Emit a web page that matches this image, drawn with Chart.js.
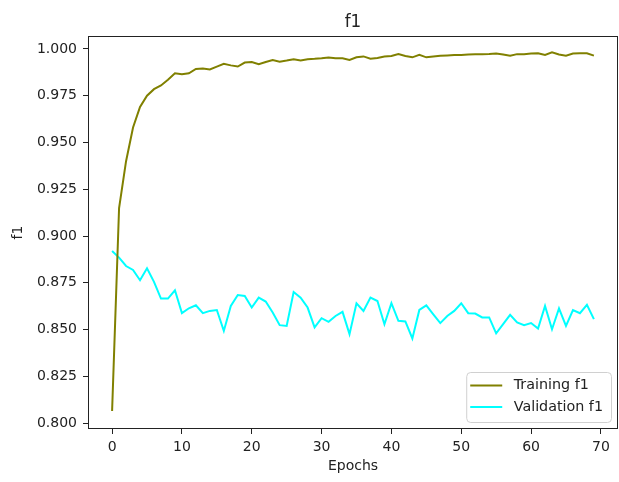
<!DOCTYPE html>
<html>
<head>
<meta charset="utf-8">
<title>f1</title>
<script src="https://cdn.jsdelivr.net/npm/chart.js@4.4.1/dist/chart.umd.min.js"></script>
<style>
  html, body { margin: 0; padding: 0; background: #fff; }
  #wrap { width: 619px; height: 482px; }
</style>
</head>
<body>
<div id="wrap"><canvas id="graficoF1"></canvas></div>
<script>
// epochs 0..69
const epochs = Array.from({ length: 70 }, (_, i) => i);

const trainF1 = [
  0.8065, 0.915, 0.940, 0.958, 0.969, 0.975, 0.9785, 0.9805, 0.9835, 0.987,
  0.9865, 0.987, 0.9893, 0.9895, 0.989, 0.9905, 0.992, 0.9912, 0.9906, 0.9927,
  0.993, 0.9918, 0.993, 0.9941, 0.9932, 0.9938, 0.9945, 0.9938, 0.9945, 0.9947,
  0.995, 0.9954, 0.995, 0.995, 0.9941, 0.9955, 0.996, 0.9948, 0.9952, 0.996,
  0.9962, 0.9972, 0.9962, 0.9955, 0.9968, 0.9955, 0.996, 0.9963, 0.9965, 0.9967,
  0.9968, 0.997, 0.9971, 0.9972, 0.9973, 0.9975, 0.997, 0.9963, 0.9972, 0.9972,
  0.9975, 0.9977, 0.9968, 0.9982, 0.997, 0.9964, 0.9975, 0.9977, 0.9977, 0.9964
];

const valF1 = [
  0.892, 0.8885, 0.884, 0.8819, 0.8764, 0.8828, 0.8755, 0.8666, 0.8666, 0.871,
  0.8588, 0.8614, 0.863, 0.8588, 0.860, 0.8605, 0.8493, 0.8627, 0.8685, 0.868,
  0.8618, 0.8671, 0.865, 0.8592, 0.8524, 0.852, 0.8701, 0.8671, 0.8618, 0.8512,
  0.8561, 0.8542, 0.8573, 0.8595, 0.8476, 0.8641, 0.860, 0.8671, 0.8653, 0.8529,
  0.8641, 0.8547, 0.8544, 0.8453, 0.8605, 0.863, 0.8582, 0.8535, 0.8573, 0.860,
  0.8641, 0.8588, 0.8586, 0.8565, 0.8565, 0.848, 0.8529, 0.8579, 0.8538, 0.8524,
  0.8535, 0.8506, 0.8627, 0.8502, 0.8613, 0.852, 0.8605, 0.8588, 0.8632, 0.8556
];

const xTicks = [0, 10, 20, 30, 40, 50, 60, 70];
const yTicks = [0.800, 0.825, 0.850, 0.875, 0.900, 0.925, 0.950, 0.975, 1.000];

const FONT = '"DejaVu Sans", sans-serif';
const INK = '#222';

// title over the plot, box round it, legend in the lower right corner
const moldura = {
  id: 'moldura',
  afterDatasetsDraw(chart) {
    const { ctx, chartArea: a } = chart;
    ctx.save();
    ctx.strokeStyle = INK;
    ctx.lineWidth = 1;
    ctx.strokeRect(a.left + 0.5, a.top + 0.5, a.right - a.left - 1, a.bottom - a.top - 1);

    ctx.fillStyle = INK;
    ctx.font = '16.8px ' + FONT;
    ctx.textAlign = 'center';
    ctx.textBaseline = 'alphabetic';
    ctx.fillText('f1', (a.left + a.right) / 2, 27);

    ctx.font = '14.3px ' + FONT;
    const sets = chart.data.datasets;
    const maxW = Math.max(...sets.map(d => ctx.measureText(d.label).width));
    const w = 47.5 + maxW + 8;
    const h = 50;
    const x0 = a.right - 7 - w;
    const y0 = a.bottom - 7 - h;
    ctx.beginPath();
    ctx.roundRect(x0 + 0.5, y0 + 0.5, w, h, 4);
    ctx.fillStyle = 'rgba(255,255,255,0.8)';
    ctx.fill();
    ctx.strokeStyle = '#d0d0d0';
    ctx.stroke();

    ctx.textBaseline = 'middle';
    ctx.textAlign = 'left';
    sets.forEach((d, i) => {
      const y = y0 + 13.5 + i * 21.5;
      ctx.beginPath();
      ctx.moveTo(x0 + 4, y);
      ctx.lineTo(x0 + 36, y);
      ctx.strokeStyle = d.borderColor;
      ctx.lineWidth = 2;
      ctx.stroke();
      ctx.fillStyle = INK;
      ctx.fillText(d.label, x0 + 47.5, y);
    });
    ctx.restore();
  }
};

const ctx = document.getElementById('graficoF1').getContext('2d');
new Chart(ctx, {
  type: 'line',
  data: {
    datasets: [
      {
        label: 'Training f1',
        data: epochs.map((e, i) => ({ x: e, y: trainF1[i] })),
        borderColor: '#808000',
        borderWidth: 2,
        pointRadius: 0,
        tension: 0
      },
      {
        label: 'Validation f1',
        data: epochs.map((e, i) => ({ x: e, y: valF1[i] })),
        borderColor: '#00FFFF',
        borderWidth: 2,
        pointRadius: 0,
        tension: 0
      }
    ]
  },
  options: {
    responsive: true,
    maintainAspectRatio: false,
    animation: false,
    layout: { padding: { left: 0, right: 1, top: 36, bottom: 0 } },
    plugins: {
      legend: { display: false },
      tooltip: { enabled: false },
      title: { display: false }
    },
    scales: {
      x: {
        type: 'linear',
        min: -3.45,
        max: 72.45,
        afterBuildTicks: s => { s.ticks = xTicks.map(v => ({ value: v })); },
        afterFit: s => { s.height = 53; },
        border: { display: false },
        grid: { drawOnChartArea: false, drawTicks: true, tickLength: 5, tickColor: INK },
        ticks: { color: INK, padding: 5, maxRotation: 0, font: { family: FONT, size: 14 } },
        title: {
          display: true,
          text: 'Epochs',
          color: INK,
          font: { family: FONT, size: 14 },
          padding: { top: 4, bottom: 7 }
        }
      },
      y: {
        min: 0.7969,
        max: 1.0069,
        afterBuildTicks: s => { s.ticks = yTicks.map(v => ({ value: v })); },
        afterFit: s => { s.width = 88; },
        border: { display: false },
        grid: { drawOnChartArea: false, drawTicks: true, tickLength: 5, tickColor: INK },
        ticks: {
          color: INK,
          padding: 6,
          font: { family: FONT, size: 14 },
          callback: v => v.toFixed(3)
        },
        title: {
          display: true,
          text: 'f1',
          color: INK,
          font: { family: FONT, size: 14 },
          padding: { top: 10, bottom: 4 }
        }
      }
    }
  },
  plugins: [moldura]
});
</script>
</body>
</html>
